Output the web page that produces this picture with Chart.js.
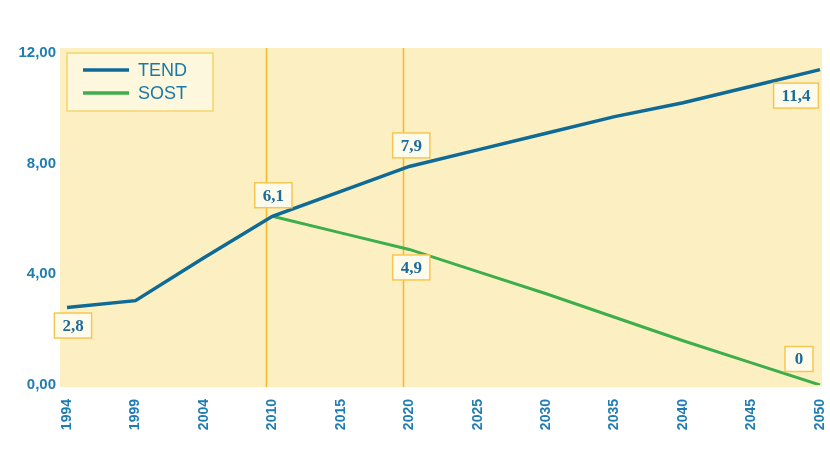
<!DOCTYPE html>
<html>
<head>
<meta charset="utf-8">
<script src="https://cdn.jsdelivr.net/npm/chart.js@4.4.1/dist/chart.umd.min.js"></script>
<style>
  html, body { margin: 0; padding: 0; background: #ffffff; }
  #wrap { width: 830px; height: 459px; }
</style>
</head>
<body>
<div id="wrap"><canvas id="chart" width="830" height="459"></canvas></div>
<script>
// datos
const years = ["1994", "1999", "2004", "2010", "2015", "2020", "2025", "2030", "2035", "2040", "2045", "2050"];
const tend = [2.8, 3.05, 4.6, 6.1, 7.0, 7.9, 8.5, 9.1, 9.7, 10.2, 10.8, 11.4];
const sost = [null, null, null, 6.1, 5.5, 4.9, 4.1, 3.3, 2.45, 1.6, 0.8, 0];
const markerYears = ["2010", "2020"];
const yTicks = [0, 4, 8, 12];

// etiquetas con caja: serie, año, desplazamiento
const boxLabels = [
    { ds: 0, year: "1994", dx: 6, dy: 18 },
    { ds: 0, year: "2010", dx: 1, dy: -21 },
    { ds: 0, year: "2020", dx: 2, dy: -21 },
    { ds: 0, year: "2050", dx: -24, dy: 26 },
    { ds: 1, year: "2020", dx: 2, dy: 18 },
    { ds: 1, year: "2050", dx: -21, dy: -26 }
];

const BLUE = "#0f6a96";
const GREEN = "#3cae4c";
const TICK = "#1f7db2";

const fmt = v => String(v).replace(".", ",");

const backdrop = {
    id: "backdrop",
    beforeDatasetsDraw(chart) {
        const { ctx, chartArea: a, scales } = chart;
        ctx.save();
        ctx.fillStyle = "#fcf0c2";
        ctx.fillRect(a.left - 7, a.top - 5, a.right - a.left + 9, a.bottom - a.top + 7);
        // líneas verticales
        ctx.strokeStyle = "#f6b930";
        ctx.lineWidth = 1.6;
        markerYears.forEach(y => {
            const x = Math.round(scales.x.getPixelForValue(years.indexOf(y))) - 5.5;
            ctx.beginPath();
            ctx.moveTo(x, a.top - 5);
            ctx.lineTo(x, a.bottom + 2);
            ctx.stroke();
        });
        ctx.restore();
    },
    afterDatasetsDraw(chart) {
        const { ctx, chartArea: a } = chart;
        ctx.save();
        // leyenda
        const lx = a.left, ly = a.top, lw = 146, lh = 58;
        ctx.fillStyle = "rgba(253,247,222,0.95)";
        ctx.fillRect(lx, ly, lw, lh);
        ctx.strokeStyle = "#f5d46c";
        ctx.lineWidth = 1.5;
        ctx.strokeRect(lx, ly, lw, lh);
        ctx.font = "18px 'Liberation Sans', Arial, sans-serif";
        ctx.textBaseline = "middle";
        chart.data.datasets.forEach((ds, i) => {
            const yy = ly + 17 + i * 23;
            ctx.strokeStyle = ds.borderColor;
            ctx.lineWidth = 3.5;
            ctx.beginPath();
            ctx.moveTo(lx + 16, yy);
            ctx.lineTo(lx + 62, yy);
            ctx.stroke();
            ctx.fillStyle = "#1a78a8";
            ctx.fillText(ds.label, lx + 71, yy + 1);
        });
        // etiquetas de valores
        ctx.font = "bold 17px 'Liberation Serif', 'DejaVu Serif', serif";
        ctx.textAlign = "center";
        boxLabels.forEach(l => {
            const idx = years.indexOf(l.year);
            const pt = chart.getDatasetMeta(l.ds).data[idx];
            const txt = fmt(chart.data.datasets[l.ds].data[idx]);
            const w = Math.max(28, ctx.measureText(txt).width + 16);
            const h = 25;
            const cx = pt.x + l.dx, cy = pt.y + l.dy;
            ctx.fillStyle = "rgba(255,251,236,0.95)";
            ctx.fillRect(cx - w / 2, cy - h / 2, w, h);
            ctx.strokeStyle = "#f6c653";
            ctx.lineWidth = 1.5;
            ctx.strokeRect(cx - w / 2, cy - h / 2, w, h);
            ctx.fillStyle = "#1c6c9c";
            ctx.fillText(txt, cx, cy + 1);
        });
        ctx.restore();
    }
};

new Chart(document.getElementById("chart"), {
    type: "line",
    data: {
        labels: years,
        datasets: [
            { label: "TEND", data: tend, borderColor: BLUE, borderWidth: 3.5, pointRadius: 0, tension: 0, fill: false },
            { label: "SOST", data: sost, borderColor: GREEN, borderWidth: 3, pointRadius: 0, tension: 0, fill: false }
        ]
    },
    options: {
        responsive: false,
        animation: false,
        layout: { padding: { top: 53, right: 10, bottom: 0, left: 0 } },
        plugins: { legend: { display: false }, tooltip: { enabled: false } },
        scales: {
            x: {
                type: "category",
                offset: false,
                grid: { display: false, drawTicks: false },
                border: { display: false },
                afterFit: s => { s.height = 74; s.paddingLeft = 0; s.paddingRight = 0; },
                ticks: {
                    autoSkip: false,
                    minRotation: 90,
                    maxRotation: 90,
                    padding: 14,
                    color: TICK,
                    font: { family: "'Liberation Sans', Arial, sans-serif", size: 14, weight: "bold" }
                }
            },
            y: {
                min: 0,
                max: 12,
                grid: { display: false, drawTicks: false },
                border: { display: false },
                afterFit: s => { s.width = 67; },
                afterBuildTicks: s => { s.ticks = yTicks.map(v => ({ value: v })); },
                ticks: {
                    padding: 11,
                    color: TICK,
                    font: { family: "'Liberation Sans', Arial, sans-serif", size: 15, weight: "bold" },
                    callback: v => v.toFixed(2).replace(".", ",")
                }
            }
        }
    },
    plugins: [backdrop]
});
</script>
</body>
</html>
